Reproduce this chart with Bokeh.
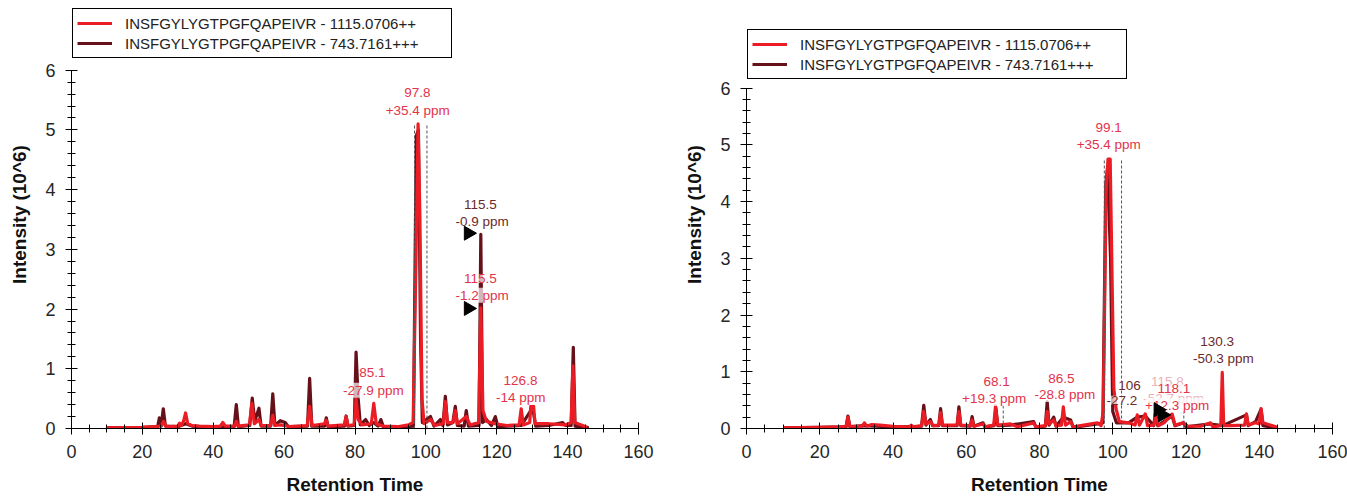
import math
from bokeh.plotting import figure
from bokeh.layouts import row
from bokeh.models import Range1d, SingleIntervalTicker, Legend, LegendItem
from bokeh.core.properties import value
from bokeh.embed import file_html
from bokeh.resources import INLINE

FONT = "Liberation Sans"
RED = "#ec1c24"
DARK = "#661019"
RED_TXT = "#e3334a"
DARK_TXT = "#6b2a2a"
FADED_TXT = "#e9b3bb"

SERIES_NAMES = ["INSFGYLYGTPGFQAPEIVR - 1115.0706++",
                "INSFGYLYGTPGFQAPEIVR - 743.7161+++"]
X_LABEL = "Retention Time"
Y_LABEL = "Intensity (10^6)"

# ---------------- left panel traces (retention time, intensity x10^6) ----------------
L_RED_T = [10, 20, 24, 25.4, 26.0, 26.6, 28, 30.0, 30.5, 31.0, 31.6, 32.2, 32.8, 34, 36, 40,
           42.0, 42.7, 43.4, 46.0, 46.5, 47.0, 50.2, 50.9, 51.6, 52.9, 53.5, 56.2, 56.8, 57.4,
           59, 62, 66.5, 67.2, 67.9, 71.4, 71.9, 72.4, 77.0, 77.5, 78.0, 79.8, 80.3, 80.9, 82,
           84.6, 85.3, 86.0, 88, 92, 95.1, 96.4, 97.2, 97.8, 98.3, 98.9, 99.5, 101.3, 102.5,
           104.9, 105.5, 106.1, 107.7, 108.3, 108.9, 111.4, 112.5, 114.9, 115.5, 116.1, 117.1,
           119.6, 122.9, 126.3, 126.9, 127.5, 129.3, 129.6, 130.4, 130.8, 134.7, 139.4, 141.0,
           141.5, 142.0, 145.5]
L_RED_I = [0.01, 0.02, 0.03, 0.05, 0.12, 0.04, 0.03, 0.04, 0.09, 0.05, 0.12, 0.26, 0.08, 0.05, 0.04, 0.03,
           0.04, 0.10, 0.04, 0.04, 0.12, 0.04, 0.06, 0.42, 0.08, 0.15, 0.05, 0.05, 0.22, 0.05,
           0.06, 0.03, 0.05, 0.37, 0.05, 0.08, 0.14, 0.04, 0.06, 0.20, 0.05, 0.06, 0.50, 0.15, 0.06,
           0.08, 0.42, 0.08, 0.04, 0.03, 0.06, 0.10, 2.80, 5.10, 3.60, 0.50, 0.08, 0.15, 0.05,
           0.08, 0.45, 0.10, 0.10, 0.30, 0.08, 0.20, 0.06, 0.10, 2.02, 0.30, 0.12,
           0.08, 0.05, 0.06, 0.33, 0.06, 0.10, 0.37, 0.37, 0.08, 0.08, 0.06, 0.10,
           1.05, 0.10, 0.02]

L_DARK_T = [10, 20, 24.3, 24.8, 25.3, 25.9, 26.5, 30, 32.2, 34, 40, 45.9, 46.5, 47.1, 50.3, 51.0,
            51.7, 52.9, 53.5, 56.2, 56.8, 57.4, 58.9, 60.3, 61.2, 66.6, 67.2, 67.8, 71.4, 71.9,
            72.4, 77.0, 77.5, 78.0, 79.8, 80.3, 80.9, 81.5, 83.0, 84.0, 85.2, 86.5, 87.3, 88.0,
            92, 96.5, 97.3, 97.9, 98.5, 99.0, 101.3, 102.3, 104.1, 104.8, 105.5, 106.1, 107.6,
            108.3, 108.9, 110.8, 111.4, 112.0, 115.0, 115.5, 116.0, 117.1, 118.5, 119.6, 120.3,
            123, 126.9, 129.6, 130.4, 131, 134.7, 138.6, 139.4, 141.0, 141.6, 142.1, 146]
L_DARK_I = [0.01, 0.02, 0.03, 0.18, 0.04, 0.33, 0.04, 0.03, 0.08, 0.04, 0.02, 0.03, 0.40, 0.03, 0.05, 0.51,
            0.12, 0.34, 0.04, 0.04, 0.58, 0.05, 0.13, 0.10, 0.03, 0.04, 0.84, 0.04, 0.04, 0.18,
            0.03, 0.04, 0.21, 0.04, 0.05, 1.28, 0.50, 0.06, 0.15, 0.05, 0.10, 0.04, 0.15, 0.03,
            0.02, 0.04, 4.90, 5.00, 1.50, 0.10, 0.20, 0.04, 0.15, 0.05, 0.54, 0.06, 0.10,
            0.37, 0.05, 0.04, 0.30, 0.04, 0.05, 3.25, 0.10, 0.15, 0.05, 0.20, 0.03,
            0.04, 0.05, 0.30, 0.25, 0.04, 0.05, 0.10, 0.05, 0.05, 1.36, 0.04, 0.01]

# ---------------- right panel traces ----------------
R_RED_T = [10, 20, 25, 27.2, 27.7, 28.2, 31.6, 32.2, 32.8, 34.2, 36.5, 40, 44.5, 45, 45.5, 47.8,
           48.4, 49, 50.2, 51, 52.5, 53, 53.5, 57.5, 58, 58.5, 61.1, 61.6, 62.1, 64.6, 65.1,
           67.5, 68.0, 68.6, 72.1, 74, 78.4, 79, 81.6, 82.1, 82.6, 83.9, 84.5, 86, 86.5, 87.1,
           88.5, 89.2, 95.8, 96.8, 97.4, 98.2, 98.7, 99.3, 100.3, 100.9, 101.8, 104.3, 106.1,
           106.7, 107.3, 108.9, 109.5, 111.2, 111.7, 112.5, 114, 116.2, 117, 119.3, 120.5, 124,
           126.7, 127.3, 129.5, 129.9, 130.3, 132.1, 136, 136.5, 137, 139, 140.0, 140.5, 141, 145]
R_RED_I = [0.01, 0.02, 0.03, 0.04, 0.20, 0.04, 0.04, 0.10, 0.04, 0.07, 0.06, 0.04, 0.03, 0.06, 0.03, 0.05,
           0.30, 0.08, 0.12, 0.05, 0.06, 0.28, 0.06, 0.06, 0.30, 0.06, 0.05, 0.15, 0.04, 0.08, 0.03,
           0.06, 0.40, 0.06, 0.08, 0.03, 0.10, 0.03, 0.05, 0.30, 0.08, 0.15, 0.05, 0.06, 0.38, 0.06,
           0.12, 0.03, 0.10, 0.05, 0.30, 4.20, 4.75, 4.75, 0.70, 0.35, 0.12, 0.10, 0.06,
           0.24, 0.06, 0.26, 0.05, 0.06, 0.20, 0.05, 0.10, 0.26, 0.06, 0.10, 0.04, 0.04,
           0.10, 0.03, 0.05, 0.99, 0.05, 0.05, 0.06, 0.26, 0.06, 0.10, 0.08, 0.35, 0.10, 0.02]

R_DARK_T = [10, 20, 27.2, 27.7, 28.2, 32, 40, 47.8, 48.4, 49, 50.2, 50.8, 52.5, 53, 53.5, 57.5,
            58, 58.5, 61.1, 61.6, 62.1, 64.6, 65.1, 67.6, 68.1, 68.6, 72, 78.4, 79, 81.6, 82.1,
            82.6, 83.9, 84.5, 86.5, 88.5, 89.2, 95.8, 97.3, 98.1, 98.6, 99.4, 100, 101, 104.3,
            106.7, 108.9, 111.2, 111.7, 112.3, 116.2, 117, 119.3, 120, 126.7, 130, 136.5, 137,
            139, 140.5, 141, 145]
R_DARK_I = [0.01, 0.02, 0.03, 0.22, 0.03, 0.05, 0.03, 0.04, 0.41, 0.06, 0.16, 0.05, 0.05, 0.35, 0.05, 0.05,
            0.38, 0.05, 0.04, 0.21, 0.04, 0.10, 0.03, 0.05, 0.35, 0.05, 0.06, 0.12, 0.03, 0.04, 0.47,
            0.06, 0.20, 0.04, 0.20, 0.15, 0.02, 0.08, 0.10, 4.30, 4.60, 3.00, 0.30, 0.10, 0.10,
            0.20, 0.22, 0.05, 0.30, 0.05, 0.22, 0.05, 0.10, 0.03, 0.08, 0.05, 0.24, 0.05,
            0.12, 0.34, 0.05, 0.01]

# ---------------- peak annotations ----------------
L_RED_LABELS = ["97.8", "+35.4 ppm", "115.5", "-1.2 ppm", "85.1", "-27.9 ppm", "126.8", "-14 ppm"]
L_RED_LX = [97.6, 97.7, 115.4, 115.9, 84.9, 85.2, 126.7, 126.8]
L_RED_LY = [5.63, 5.32, 2.51, 2.23, 0.93, 0.64, 0.80, 0.52]
L_DARK_LABELS = ["115.5", "-0.9 ppm"]
L_DARK_LX = [115.4, 115.9]
L_DARK_LY = [3.75, 3.47]
L_MARK_X = [112.0, 112.0]
L_MARK_Y = [3.27, 2.01]
L_RT_LINES = [96.8, 100.3]
L_RT_TOP = [5.08, 5.08]

R_RED_LABELS = ["99.1", "+35.4 ppm", "68.1", "+19.3 ppm", "86.5", "-28.8 ppm", "118.1", "+12.3 ppm"]
R_RED_LX = [98.9, 98.9, 68.3, 67.6, 86.0, 86.9, 116.7, 117.6]
R_RED_LY = [5.30, 5.01, 0.82, 0.53, 0.88, 0.60, 0.70, 0.41]
R_DARK_LABELS = ["106", "-27.2", "130.3", "-50.3 ppm"]
R_DARK_LX = [104.6, 102.5, 128.5, 130.2]
R_DARK_LY = [0.76, 0.50, 1.53, 1.24]
R_FADED_LABELS = ["115.8", "-52.7 ppm"]
R_FADED_LX = [114.9, 116.6]
R_FADED_LY = [0.82, 0.53]
R_MARK_X = [112.4, 113.6]
R_MARK_Y = [0.33, 0.24]
R_RT_LINES = [97.7, 102.4, 70.1, 119.4]
R_RT_TOP = [4.76, 4.76, 0.42, 0.35]


def build(w, y_end, mb_l, mb_r):
    p = figure(width=w, height=497, output_backend="svg", toolbar_location=None,
               x_range=Range1d(0, 160), y_range=Range1d(0, y_end),
               min_border_left=mb_l, min_border_right=mb_r,
               min_border_top=0, min_border_bottom=67)
    p.outline_line_color = None
    p.xgrid.visible = False
    p.ygrid.visible = False
    p.background_fill_color = "white"
    p.border_fill_color = "white"
    p.xaxis.ticker = SingleIntervalTicker(interval=20, num_minor_ticks=4)
    p.yaxis.ticker = SingleIntervalTicker(interval=1, num_minor_ticks=5)
    p.yaxis.bounds = (0, 6)
    p.xaxis.axis_label = X_LABEL
    p.yaxis.axis_label = Y_LABEL
    for ax in (p.xaxis[0], p.yaxis[0]):
        ax.axis_line_color = "black"
        ax.major_tick_line_color = "black"
        ax.minor_tick_line_color = "black"
        ax.major_tick_in = 6
        ax.major_tick_out = 6
        ax.minor_tick_in = 4
        ax.minor_tick_out = 4
        ax.major_label_text_font = FONT
        ax.major_label_text_font_size = "18px"
        ax.major_label_text_color = "#262626"
        ax.axis_label_text_font = FONT
        ax.axis_label_text_font_style = "bold"
        ax.axis_label_text_font_size = "19px"
        ax.axis_label_text_color = "#111111"
    p.xaxis.major_label_standoff = 10
    p.xaxis.axis_label_standoff = 13
    p.yaxis.major_label_standoff = 10
    p.yaxis.axis_label_standoff = 12
    return p


def add_content(p, red_t, red_i, dark_t, dark_i, rt_lines, rt_top, label_groups, mark_x, mark_y,
                legend_loc):
    r_dark = p.line(dark_t, dark_i, line_color=DARK, line_width=3.2, line_join="round")
    r_red = p.line(red_t, red_i, line_color=RED, line_width=3.2, line_join="round")
    p.segment(x0=rt_lines, y0=[0] * len(rt_lines), x1=rt_lines, y1=rt_top,
              line_color="#555555", line_width=1, line_dash="3 2")
    for labels, lx, ly, col in label_groups:
        p.text(x=lx, y=ly, text=labels, text_color=col, text_font=value(FONT),
               text_font_size="13.5px", text_align="center", text_baseline="middle",
               background_fill_color="white", background_fill_alpha=0.7)
    if mark_x:
        p.scatter(x=mark_x, y=mark_y, marker="triangle", size=14, angle=-math.pi / 2,
                  fill_color="black", line_color="black")
    legend = Legend(items=[LegendItem(label=SERIES_NAMES[0], renderers=[r_red]),
                           LegendItem(label=SERIES_NAMES[1], renderers=[r_dark])],
                    location=legend_loc, orientation="vertical",
                    border_line_color="black", border_line_width=1, border_line_alpha=1,
                    background_fill_color="white", background_fill_alpha=1,
                    label_text_font=FONT, label_text_font_size="15px", label_text_color="#222222",
                    glyph_width=35, glyph_height=20, label_height=20, label_width=322,
                    label_standoff=13, padding=4, spacing=0, margin=0)
    p.add_layout(legend, "center")


# frame spans y 0..430 px; y=0 at 430 px, y=6 at 70 px (left) / 88 px (right)
left = build(673, 430 / 60.0, 71, 35)
add_content(left, L_RED_T, L_RED_I, L_DARK_T, L_DARK_I, L_RT_LINES, L_RT_TOP,
            [(L_RED_LABELS, L_RED_LX, L_RED_LY, RED_TXT),
             (L_DARK_LABELS, L_DARK_LX, L_DARK_LY, DARK_TXT)],
            L_MARK_X, L_MARK_Y, (1, 370))

right = build(674, 430 / 57.0, 73, 15)
add_content(right, R_RED_T, R_RED_I, R_DARK_T, R_DARK_I, R_RT_LINES, R_RT_TOP,
            [(R_FADED_LABELS, R_FADED_LX, R_FADED_LY, FADED_TXT),
             (R_RED_LABELS, R_RED_LX, R_RED_LY, RED_TXT),
             (R_DARK_LABELS, R_DARK_LX, R_DARK_LY, DARK_TXT)],
            R_MARK_X, R_MARK_Y, (1, 349))

layout = row(left, right, spacing=0)
open("out.html", "w").write(file_html(layout, INLINE))
